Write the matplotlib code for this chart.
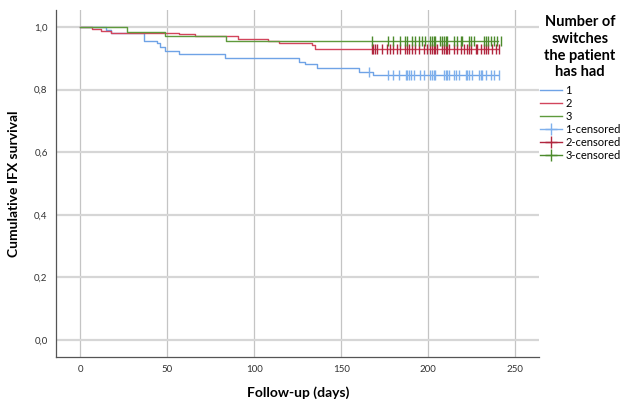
import matplotlib
matplotlib.use("Agg")
import matplotlib.pyplot as plt
from matplotlib.lines import Line2D

plt.rcParams['font.family'] = ['Lato', 'DejaVu Sans']

# step curves: (time, survival after the drop)
g1_times = [0, 15, 18, 37, 44, 46, 49, 57, 83, 126, 129, 136, 160, 168, 240]
g1_surv = [1.0, 0.989, 0.980, 0.956, 0.948, 0.937, 0.923, 0.914, 0.902, 0.889, 0.880, 0.868, 0.857, 0.846, 0.846]
g2_times = [0, 7, 12, 18, 57, 66, 91, 108, 114, 133, 135, 240]
g2_surv = [1.0, 0.993, 0.987, 0.982, 0.976, 0.970, 0.963, 0.955, 0.948, 0.942, 0.930, 0.930]
g3_times = [0, 27, 49, 84, 240]
g3_surv = [1.0, 0.984, 0.970, 0.955, 0.955]

# censored times
g1_cens = [166, 177, 180, 183, 187, 188, 189, 190, 191.5, 195.4, 197.3, 201, 202, 203, 204,
           209, 210, 211, 212, 214.8, 216, 217.6, 221.4, 222.5, 223.5, 225.3, 229, 230, 231,
           232.9, 235.8, 237.7, 240.6]
g2_cens = [167.6, 168.5, 169.5, 170.5, 173.4, 176.2, 178.2, 180, 182, 184, 186.8, 188, 189,
           190.6, 192.5, 194.4, 197.3, 199.3, 201, 202, 203, 204, 205.2, 208, 209, 210, 211, 212,
           214.8, 216.7, 218.6, 220.5, 222.4, 223.4, 224.3, 227.2, 228.2, 230, 232, 233, 234,
           236.8, 238.7, 240.6]
g3_cens = [167.6, 177, 180, 184, 186.4, 187.7, 190.6, 192.5, 194.4, 196.4, 198.3, 201, 202, 203,
           204, 207, 208, 209, 210, 211, 214.8, 216.7, 218.6, 219.5, 223.4, 224.5, 226.3, 232, 233,
           234, 235.8, 237.7, 239.6, 241.5]

line_colors = ["#6fa3e6", "#d2455c", "#5e9a3c"]
cens_colors = ["#7fb0ec", "#b0263e", "#4c8a2c"]
names = ["1", "2", "3"]


def surv_at(t, times, surv):
    s = surv[0]
    for ti, si in zip(times, surv):
        if ti <= t:
            s = si
    return s


fig = plt.figure(figsize=(6.27, 4.01), dpi=100)
ax = fig.add_axes([0.0893, 0.110, 0.771, 0.865])

groups = [(g1_times, g1_surv, g1_cens), (g2_times, g2_surv, g2_cens), (g3_times, g3_surv, g3_cens)]
for i, (t, s, c) in enumerate(groups):
    ax.step(t, s, where="post", color=line_colors[i], lw=1.0, zorder=3)
    ys = [surv_at(x, t, s) for x in c]
    ax.plot(c, ys, ls="none", marker="|", ms=6.5, mew=1.0, color=cens_colors[i], zorder=4)

ax.set_xlim(-13.8, 263.8)
ax.set_ylim(-0.054, 1.054)
ax.set_xticks([0, 50, 100, 150, 200, 250])
ax.set_yticks([0, 0.2, 0.4, 0.6, 0.8, 1.0])
ax.set_yticklabels(["0,0", "0,2", "0,4", "0,6", "0,8", "1,0"])
ax.tick_params(length=0, labelsize=7, colors="#333333", pad=6)
ax.grid(axis="y", color="#d6d6d6", lw=1.6)
ax.grid(axis="x", color="#c4c4c4", lw=0.9)
ax.set_axisbelow(True)
for sp in ["top", "right"]:
    ax.spines[sp].set_visible(False)
for sp in ["left", "bottom"]:
    ax.spines[sp].set_color("#555555")
    ax.spines[sp].set_linewidth(0.9)

ax.set_xlabel("Follow-up (days)", fontsize=10, fontweight="bold", labelpad=9)
ax.set_ylabel("Cumulative IFX survival", fontsize=10, fontweight="bold", labelpad=10)

handles = []
for i in range(3):
    handles.append(Line2D([], [], color=line_colors[i], lw=1.0, label=names[i]))
for i in range(3):
    handles.append(Line2D([], [], color=cens_colors[i], lw=1.0, marker="+", ms=9,
                          label=names[i] + "-censored"))
leg = fig.legend(handles=handles, loc="upper left", bbox_to_anchor=(0.857, 0.968),
                 frameon=False, fontsize=8, handlelength=2.0, handletextpad=0.3,
                 labelspacing=0.18, borderaxespad=0, borderpad=0.2,
                 title="Number of\nswitches\nthe patient\nhas had",
                 title_fontproperties={"weight": "bold", "size": 10.5})
leg.get_title().set_multialignment("center")
leg.get_title().set_linespacing(1.25)
leg._legend_box.sep = 4

fig.savefig("out.png", dpi=100)
